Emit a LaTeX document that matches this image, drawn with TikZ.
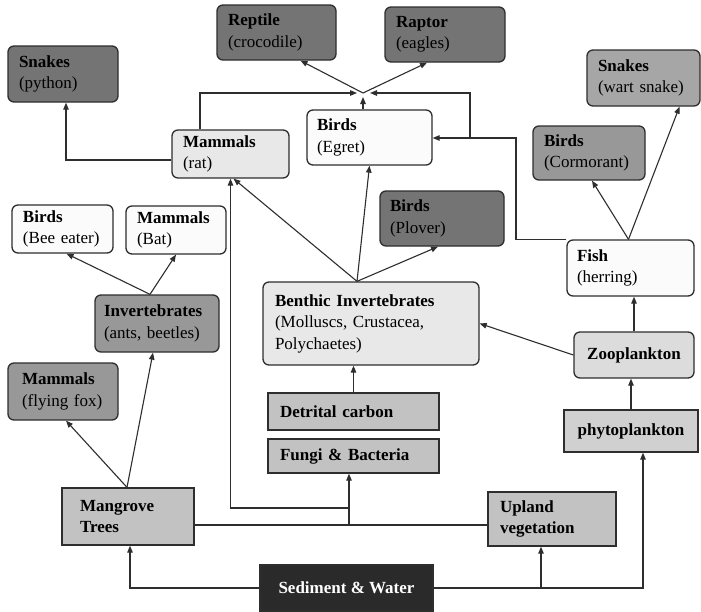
\documentclass[tikz,border=0pt]{standalone}
\usepackage{fontspec}
\setmainfont{Liberation Serif}
\usetikzlibrary{arrows.meta}

\definecolor{linec}{HTML}{2E2E2E}
\definecolor{darkA}{HTML}{747474}
\definecolor{midA}{HTML}{989898}
\definecolor{midB}{HTML}{A6A6A6}
\definecolor{lightA}{HTML}{C2C2C2}
\definecolor{lightB}{HTML}{D0D0D0}
\definecolor{lightC}{HTML}{DCDCDC}
\definecolor{paleA}{HTML}{E8E8E8}
\definecolor{whiteA}{HTML}{FBFBFB}
\definecolor{blackA}{HTML}{2A2A2A}

\newcommand\boxfont{\fontsize{17}{21.5}\selectfont}

\tikzset{
  box/.style={draw=linec, line width=1.3pt, align=left, inner xsep=11pt,
    inner ysep=3pt, font=\boxfont, text=black},
  rbox/.style={box, rounded corners=6pt},
  arr/.style={draw=linec, line width=1.1pt, -{Triangle[length=7pt,width=5.5pt]}},
  link/.style={draw=linec, line width=1.1pt},
}

\begin{document}
\begin{tikzpicture}[x=1pt,y=-1pt]
\useasboundingbox[fill=white] (0,0) rectangle (701,611);

% --- consumers, top rows ---
\node[rbox, fill=darkA, minimum width=119pt, minimum height=55pt, text width=97pt]
  (reptile) at (276.5,32.5) {\textbf{Reptile}\\(crocodile)};
\node[rbox, fill=darkA, minimum width=120pt, minimum height=55pt, text width=98pt]
  (raptor) at (445,34.5) {\textbf{Raptor}\\(eagles)};
\node[rbox, fill=darkA, minimum width=110pt, minimum height=56pt, text width=88pt]
  (python) at (63,74) {\textbf{Snakes}\\(python)};
\node[rbox, fill=midB, minimum width=113pt, minimum height=56pt, text width=91pt]
  (wart) at (643.5,78) {\textbf{Snakes}\\(wart snake)};
\node[rbox, fill=paleA, minimum width=117pt, minimum height=48pt, text width=95pt]
  (rat) at (230.5,154) {\textbf{Mammals}\\(rat)};
\node[rbox, fill=whiteA, minimum width=125pt, minimum height=55pt, text width=105pt, inner xsep=10pt]
  (egret) at (369.5,137.5) {\textbf{Birds}\\(Egret)};
\node[rbox, fill=midA, minimum width=112pt, minimum height=54pt, text width=90pt]
  (cormorant) at (589,153) {\textbf{Birds}\\(Cormorant)};
\node[rbox, fill=darkA, minimum width=124pt, minimum height=55pt, text width=104pt, inner xsep=10pt]
  (plover) at (442,218.5) {\textbf{Birds}\\(Plover)};
\node[rbox, fill=whiteA, minimum width=101pt, minimum height=48pt, text width=79pt]
  (beeeater) at (62.5,229) {\textbf{Birds}\\(Bee eater)};
\node[rbox, fill=whiteA, minimum width=100pt, minimum height=48pt, text width=78pt]
  (bat) at (176,230) {\textbf{Mammals}\\(Bat)};

% --- middle rows ---
\node[rbox, fill=midA, minimum width=124pt, minimum height=57pt, text width=106pt, inner xsep=9pt]
  (insects) at (157,323.5) {\textbf{Invertebrates}\\(ants, beetles)};
\node[rbox, fill=paleA, minimum width=216pt, minimum height=83pt, text width=192pt, inner xsep=12pt]
  (benthic) at (371,323.5) {\textbf{Benthic Invertebrates}\\(Molluscs, Crustacea,\\Polychaetes)};
\node[rbox, fill=whiteA, minimum width=127pt, minimum height=56pt, text width=107pt, inner xsep=10pt]
  (fish) at (630.5,268) {\textbf{Fish}\\(herring)};
\node[rbox, fill=lightC, minimum width=120pt, minimum height=46pt, align=center]
  (zoo) at (634,355) {\textbf{Zooplankton}};
\node[rbox, fill=midA, minimum width=110pt, minimum height=57pt, text width=82pt, inner xsep=14pt]
  (flyfox) at (63,391.5) {\textbf{Mammals}\\(flying fox)};

% --- producers and detritus ---
\node[box, fill=lightB, minimum width=134pt, minimum height=42pt, align=center]
  (phyto) at (631,431) {\textbf{phytoplankton}};
\node[box, fill=lightA, minimum width=171pt, minimum height=37pt, text width=147pt, inner xsep=12pt]
  (detrital) at (353.5,411.5) {\textbf{Detrital carbon}};
\node[box, fill=lightA, minimum width=171pt, minimum height=34pt, text width=147pt, inner xsep=12pt]
  (fungi) at (353.5,456) {\textbf{Fungi \& Bacteria}};
\node[box, fill=lightA, minimum width=132pt, minimum height=57pt, text width=96pt, inner xsep=18pt]
  (mangrove) at (128,516.5) {\textbf{Mangrove}\\\textbf{Trees}};
\node[box, fill=lightA, minimum width=128pt, minimum height=54pt, text width=104pt, inner xsep=12pt]
  (upland) at (552,519) {\textbf{Upland}\\\textbf{vegetation}};
\node[box, fill=blackA, text=white, minimum width=173pt, minimum height=46pt, align=center]
  (sediment) at (346.5,588) {\textbf{Sediment \& Water}};

% --- junction feeding the top predators ---
\coordinate (J) at (363,93);
\coordinate (JL) at (357,93);
\coordinate (JR) at (370,93);
\coordinate (JB) at (363,97);
\coordinate (RatTop) at ([xshift=-30.5pt]rat.north);
\coordinate (F1) at (516,138);
\coordinate (F2) at (470,138);

\draw[arr] (RatTop) |- (JL);
\draw[arr] (JB |- egret.north) -- (JB);
\draw[arr] (fish.north west) -| (F1) -- (egret.east |- F1);
\draw[arr] (F2) |- (JR);
\draw[arr] (J) -- ([xshift=24pt]reptile.south);
\draw[arr] (J) -- ([xshift=-18pt]raptor.south);

% rat to python
\draw[arr] ([yshift=-6pt]rat.west) -| ([xshift=3pt]python.south);

% benthic invertebrates feed upward
\coordinate (B) at ([xshift=-14pt]benthic.north);
\draw[arr] (B) -- ([xshift=3pt]rat.south);
\draw[arr] (B) -- (egret.south);
\draw[arr] (B) -- ([xshift=-4pt]plover.south);

% fish feed upward
\coordinate (Fo) at ([xshift=-2pt]fish.north);
\draw[arr] (Fo) -- ([xshift=3pt]cormorant.south);
\draw[arr] (Fo) -- ([xshift=36pt]wart.south);

% terrestrial invertebrates
\coordinate (Io) at ([xshift=-7pt]insects.north);
\draw[arr] (Io) -- ([xshift=4pt]beeeater.south);
\draw[arr] (Io) -- (bat.south);

% mangrove trees
\coordinate (Mo) at ([xshift=-1pt]mangrove.north);
\draw[arr] (Mo) -- ([xshift=3pt]flyfox.south);
\draw[arr] (Mo) -- ([xshift=-4pt]insects.south);

% plankton chain
\draw[arr] (zoo.west) -- (benthic.east);
\draw[arr] (zoo.north) -- (zoo.north |- fish.south);
\draw[arr] (phyto.north) -- (phyto.north |- zoo.south);

% detritus chain
\draw[arr] (detrital.north) -- (detrital.north |- benthic.south);
\coordinate (M) at (349,525);
\coordinate (K) at (349,508);
\draw[link] (mangrove.east |- M) -- (upland.west |- M);
\draw[arr] (M) -- (M |- fungi.south);
\draw[arr] (K) -| (rat.south);

% sediment and water
\coordinate (MS) at ([xshift=2pt]mangrove.south);
\coordinate (PS) at ([xshift=12pt]phyto.south);
\coordinate (US) at ([xshift=-11pt]upland.south);
\draw[arr] (sediment.west) -| (MS);
\draw[arr] (sediment.east) -| (PS);
\draw[arr] (US |- sediment.east) -- (US);
\end{tikzpicture}
\end{document}
